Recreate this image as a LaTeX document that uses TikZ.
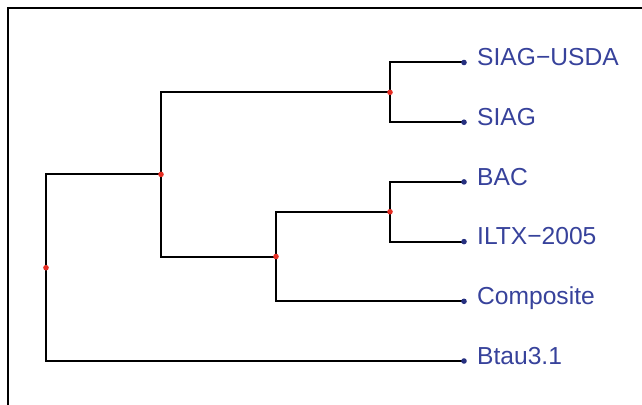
\documentclass[tikz,border=0pt]{standalone}
\usepackage{fontspec}
\setmainfont{Liberation Sans}
\definecolor{lblue}{RGB}{55,66,155}
\definecolor{dblue}{RGB}{38,48,128}
\definecolor{nred}{RGB}{228,45,35}
\begin{document}
\begin{tikzpicture}[x=1pt,y=-1pt,
  branch/.style={line width=2pt, black},
  frame/.style={line width=1.3pt, black},
  lab/.style={anchor=base west, inner sep=0pt, text=lblue, font=\fontsize{24.6}{28}\selectfont},
  leafdot/.style={fill=dblue},
  innerdot/.style={fill=nred}]
\useasboundingbox (0,0) rectangle (642,404);
\draw[frame] (8,405) -- (8,8) -- (643,8);
% internal nodes
\coordinate (root) at (46,267.7);
\coordinate (A) at (161,174.4);
\coordinate (B) at (390,92.35);
\coordinate (C) at (276,256.5);
\coordinate (D) at (390,211.75);
% leaves
\coordinate (l1) at (464,62.5);
\coordinate (l2) at (464,122.2);
\coordinate (l3) at (464,181.9);
\coordinate (l4) at (464,241.6);
\coordinate (l5) at (464,301.3);
\coordinate (l6) at (464,361);
% branches
\draw[branch] (A) -| (root) |- (l6);
\draw[branch] (B) -| (A) |- (C);
\draw[branch] (l1) -| (B) |- (l2);
\draw[branch] (D) -| (C) |- (l5);
\draw[branch] (l3) -| (D) |- (l4);
% dots
\foreach \p in {root,A,B,C,D} \fill[innerdot] (\p) circle (2.8);
\foreach \p in {l1,l2,l3,l4,l5,l6} \fill[leafdot] (\p) circle (2.8);
% labels
\node[lab] (t1) at (477,65.8) {SIAG−USDA};
\node[lab] (t2) at (477,125.5) {SIAG};
\node[lab] (t3) at (477,185.2) {BAC};
\node[lab] (t4) at (477,244.9) {ILTX−2005};
\node[lab] (t5) at (477,304.6) {Composite};
\node[lab] (t6) at (477,364.3) {Btau3.1};
\end{tikzpicture}
\end{document}
